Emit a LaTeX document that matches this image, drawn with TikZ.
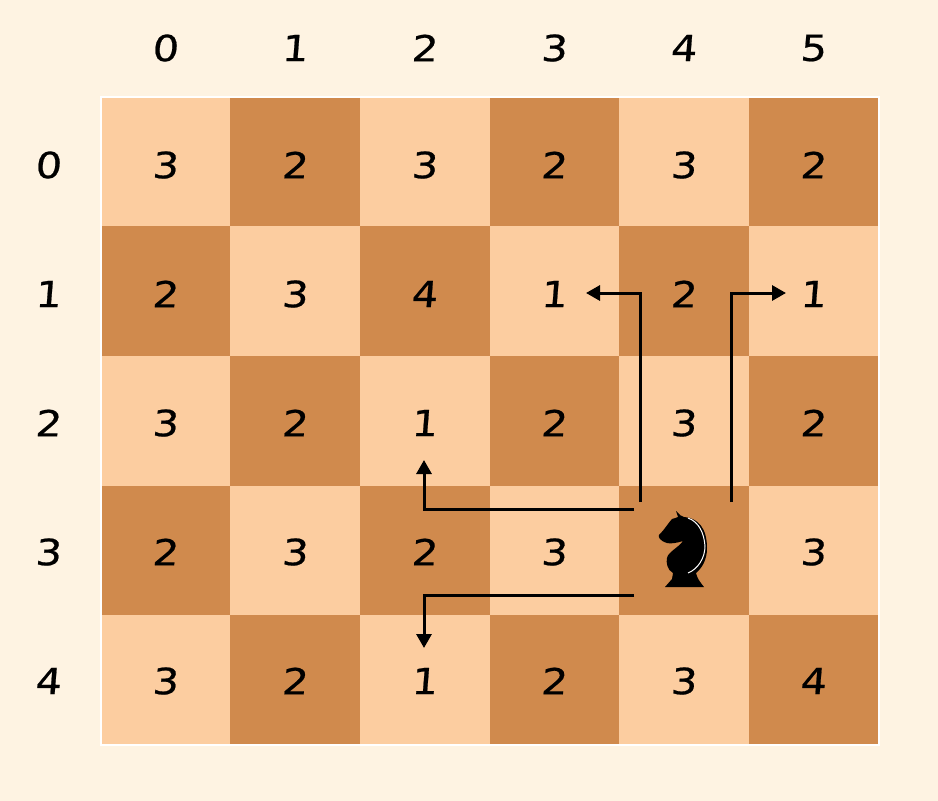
\documentclass[tikz,border=0pt]{standalone}
\usepackage{fontspec}
\setmainfont[FakeStretch=1.15,FakeSlant=0.08,FakeBold=0.6]{DejaVu Sans}
\usetikzlibrary{arrows.meta}
\definecolor{bgc}{HTML}{FEF3E2}
\definecolor{lightc}{HTML}{FCCDA0}
\definecolor{darkc}{HTML}{D08A4D}
\tikzset{
  x=1pt,y=-1pt,
  cellbox/.style={inner sep=0pt,outer sep=0pt,minimum width=129.9pt,minimum height=129.9pt,draw=none},
  cell0/.style={cellbox,fill=lightc},
  cell1/.style={cellbox,fill=darkc},
  digit/.style={inner sep=0pt,outer sep=0pt,font=\fontsize{36}{36}\selectfont,text=black},
  route/.style={line width=3pt,draw=black,line join=miter,-{Triangle[width=15pt,length=14pt]}},
}
\begin{document}
\begin{tikzpicture}
\useasboundingbox (0,0) rectangle (938,801);
\fill[bgc] (0,0) rectangle (938,801);
% board
\foreach \row [count=\r from 0] in {{3,2,3,2,3,2},{2,3,4,1,2,1},{3,2,1,2,3,2},{2,3,2,3,x,3},{3,2,1,2,3,4}}{
  \foreach \v [count=\c from 0] in \row {
    \pgfmathtruncatemacro\p{mod(\r+\c,2)}
    \pgfmathsetmacro\cx{165.6+129.67*\c}
    \pgfmathsetmacro\cy{161.8+129.6*\r}
    \node[cell\p] (c\r\c) at (\cx,\cy) {};
  }
}
\draw[white,line width=2pt] (100.5,96.5) rectangle (879,745);
\foreach \row [count=\r from 0] in {{3,2,3,2,3,2},{2,3,4,1,2,1},{3,2,1,2,3,2},{2,3,2,3,x,3},{3,2,1,2,3,4}}{
  \foreach \v [count=\c from 0] in \row {
    \if\v x\else
    \pgfmathsetmacro\cx{165+129.6*\c}
    \pgfmathsetmacro\cy{165+129*\r}
    \node[digit] (d\r\c) at (\cx,\cy) {\v};
    \fi
  }
}
% column and row headings
\foreach \c in {0,...,5}{
  \pgfmathsetmacro\cx{165+129.6*\c}
  \node[digit] (top\c) at (\cx,48) {\c};
}
\foreach \r in {0,...,4}{
  \pgfmathsetmacro\cy{165+129*\r}
  \node[digit] (side\r) at (48,\cy) {\r};
}
% knight
\fill[black] (676,511) .. controls (680,515) and (682,517) .. (684,517)
  .. controls (698,518) and (707,528) .. (707,548)
  .. controls (707,560) and (702,568) .. (696,573)
  .. controls (697,578) and (700,582) .. (704,587)
  -- (665,587) -- (672,579) -- (673,573)
  .. controls (667,570) and (666,562) .. (667,558)
  .. controls (668,552) and (678,548) .. (683,541)
  .. controls (677,543) and (670,544) .. (667,543)
  .. controls (660,541) and (658,537) .. (659,535)
  .. controls (665,529) and (669,522) .. (672,519)
  .. controls (674,518) and (677,518) .. (678,517) -- cycle;
\draw[white,line width=1pt] (688,518) .. controls (699,522) and (704,533) .. (705,546)
  .. controls (705,558) and (698,569) .. (688,573);
% moves
\coordinate (a1s) at (640,502); \coordinate (a1m) at (640,293); \coordinate (a1e) at (586,293);
\coordinate (a2s) at (731,502); \coordinate (a2m) at (731,293); \coordinate (a2e) at (786,293);
\coordinate (a3s) at (634,509); \coordinate (a3m) at (424,509); \coordinate (a3e) at (424,460);
\coordinate (a4s) at (634,595); \coordinate (a4m) at (424,595); \coordinate (a4e) at (424,648);
\draw[route] (a1s) -- (a1m) -- (a1e);
\draw[route] (a2s) -- (a2m) -- (a2e);
\draw[route] (a3s) -- (a3m) -- (a3e);
\draw[route] (a4s) -- (a4m) -- (a4e);
\end{tikzpicture}
\end{document}
